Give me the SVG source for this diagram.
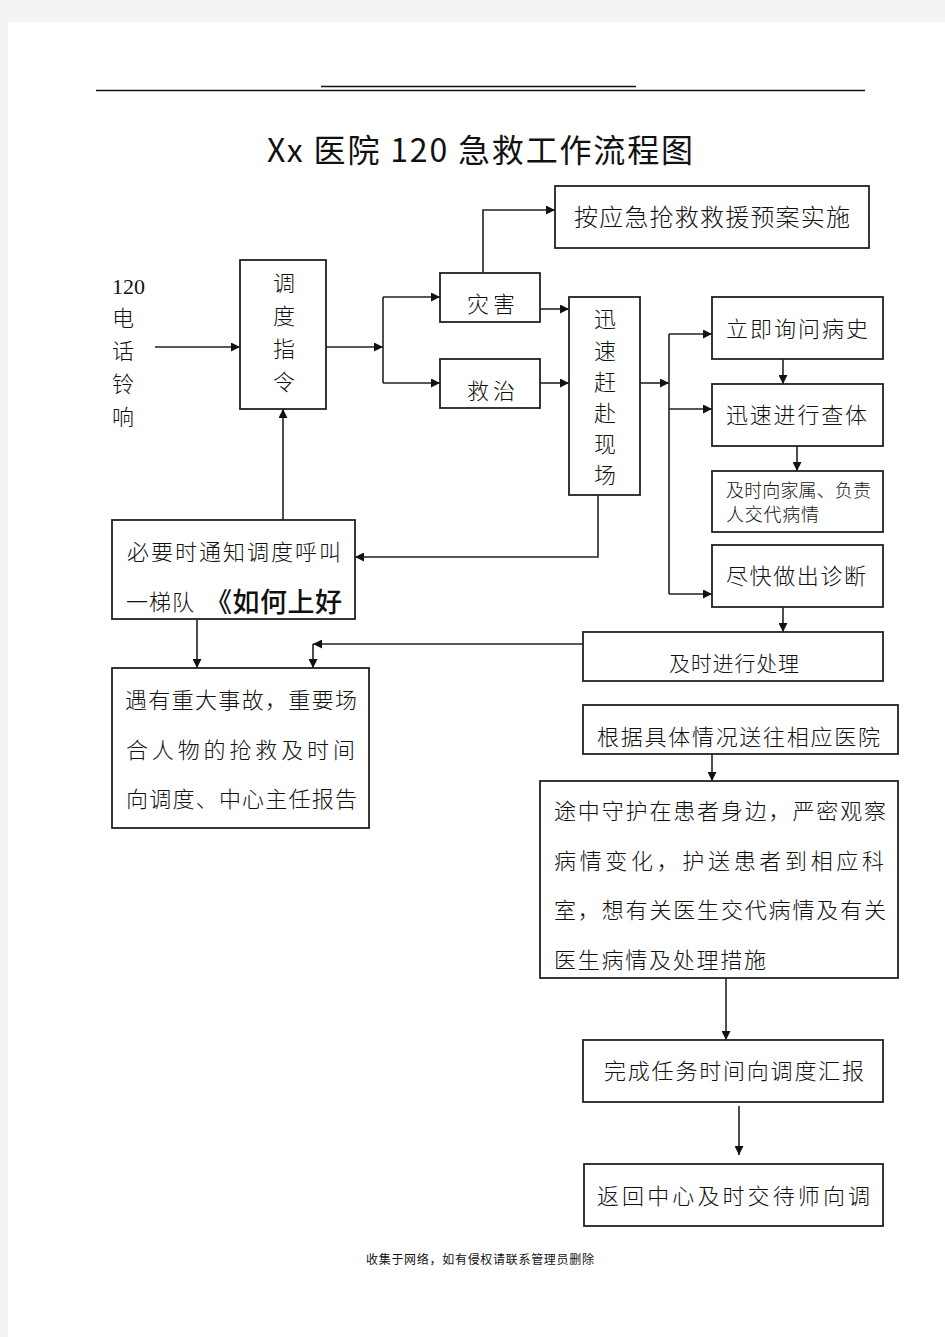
<svg xmlns="http://www.w3.org/2000/svg" width="945" height="1337" viewBox="0 0 945 1337">
<defs>
<marker id="ah" viewBox="0 0 10 10" refX="10" refY="5" markerWidth="10" markerHeight="9" markerUnits="userSpaceOnUse" orient="auto">
<path d="M0,0 L10,5 L0,10 z" fill="#111"/>
</marker>
<style>
.box{fill:#fff;stroke:#222;stroke-width:1.8}
.ln{fill:none;stroke:#222;stroke-width:1.6}
.t{font-family:"Noto Sans CJK SC","Noto Sans CJK JP",sans-serif;font-size:22px;fill:#111;font-weight:300}
.s{font-size:18px}
.lat{font-family:"Liberation Serif","Noto Sans CJK SC",serif}
</style>
</defs>
<rect x="0" y="0" width="945" height="1337" fill="#f3f3f3"/>
<rect x="8" y="22" width="937" height="1315" fill="#fff"/>
<g id="header">
<line x1="96" y1="90.5" x2="865" y2="90.5" stroke="#111" stroke-width="1.3"/>
<line x1="321" y1="86.5" x2="636" y2="86.5" stroke="#111" stroke-width="1.3"/>
<text x="267" y="162" font-family="'Noto Sans CJK SC',sans-serif" font-size="32" fill="#111" textLength="426">Xx 医院 120 急救工作流程图</text>
</g>
<g id="connectors">
<path class="ln" d="M155,347 H240" marker-end="url(#ah)"/>
<path class="ln" d="M326,347 H383" marker-end="url(#ah)"/>
<path class="ln" d="M383,297 V383"/>
<path class="ln" d="M383,297 H440" marker-end="url(#ah)"/>
<path class="ln" d="M383,383 H440" marker-end="url(#ah)"/>
<path class="ln" d="M483,273 V210 H555" marker-end="url(#ah)"/>
<path class="ln" d="M540,309 H569" marker-end="url(#ah)"/>
<path class="ln" d="M540,383 H569" marker-end="url(#ah)"/>
<path class="ln" d="M640,383 H669" marker-end="url(#ah)"/>
<path class="ln" d="M669,334 V594"/>
<path class="ln" d="M669,334 H712" marker-end="url(#ah)"/>
<path class="ln" d="M669,409 H712" marker-end="url(#ah)"/>
<path class="ln" d="M669,594 H712" marker-end="url(#ah)"/>
<path class="ln" d="M783,359 V384" marker-end="url(#ah)"/>
<path class="ln" d="M797,446 V471" marker-end="url(#ah)"/>
<path class="ln" d="M783,607 V632" marker-end="url(#ah)"/>
<path class="ln" d="M598,495 V557 H355" marker-end="url(#ah)"/>
<path class="ln" d="M283,520 V409" marker-end="url(#ah)"/>
<path class="ln" d="M197,619 V668" marker-end="url(#ah)"/>
<path class="ln" d="M583,644 H313" marker-end="url(#ah)"/>
<path class="ln" d="M313,644 V668" marker-end="url(#ah)"/>
<path class="ln" d="M712,754 V781" marker-end="url(#ah)"/>
<path class="ln" d="M726,978 V1040" marker-end="url(#ah)"/>
<path class="ln" d="M739,1106 V1155" marker-end="url(#ah)"/>
</g>
<g id="n-phone">
<text class="t lat" x="112" y="294">120</text>
<text class="t" x="112" y="326">电</text>
<text class="t" x="112" y="359">话</text>
<text class="t" x="112" y="392">铃</text>
<text class="t" x="112" y="425">响</text>
</g>
<g id="n-dispatch">
<rect class="box" x="240" y="260" width="86" height="149"/>
<text class="t" x="284" y="291" text-anchor="middle">调</text>
<text class="t" x="284" y="324" text-anchor="middle">度</text>
<text class="t" x="284" y="357" text-anchor="middle">指</text>
<text class="t" x="284" y="390" text-anchor="middle">令</text>
</g>
<g id="n-plan">
<rect class="box" x="555" y="186" width="314" height="62"/>
<text class="t" x="574" y="226" style="font-size:24px" textLength="276">按应急抢救救援预案实施</text>
</g>
<g id="n-disaster">
<rect class="box" x="440" y="273" width="100" height="49"/>
<text class="t" x="467" y="312" textLength="48">灾害</text>
</g>
<g id="n-treat">
<rect class="box" x="440" y="359" width="100" height="49"/>
<text class="t" x="467" y="399" textLength="48">救治</text>
</g>
<g id="n-rush">
<rect class="box" x="569" y="297" width="71" height="198"/>
<text class="t" x="605" y="327" text-anchor="middle">迅</text>
<text class="t" x="605" y="359" text-anchor="middle">速</text>
<text class="t" x="605" y="390" text-anchor="middle">赶</text>
<text class="t" x="605" y="421" text-anchor="middle">赴</text>
<text class="t" x="605" y="452" text-anchor="middle">现</text>
<text class="t" x="605" y="483" text-anchor="middle">场</text>
</g>
<g id="n-history">
<rect class="box" x="712" y="297" width="171" height="62"/>
<text class="t" x="726" y="337" textLength="142">立即询问病史</text>
</g>
<g id="n-exam">
<rect class="box" x="712" y="384" width="171" height="62"/>
<text class="t" x="726" y="423" textLength="141">迅速进行查体</text>
</g>
<g id="n-inform">
<rect class="box" x="712" y="471" width="171" height="61"/>
<text class="t s" x="726" y="497" textLength="145">及时向家属、负责</text>
<text class="t s" x="726" y="521" textLength="93">人交代病情</text>
</g>
<g id="n-diagnose">
<rect class="box" x="712" y="545" width="171" height="62"/>
<text class="t" x="726" y="584" textLength="140">尽快做出诊断</text>
</g>
<g id="n-handle">
<rect class="box" x="583" y="632" width="300" height="49"/>
<text class="t" x="669" y="671" style="font-size:21px" textLength="130">及时进行处理</text>
</g>
<g id="n-notify">
<rect class="box" x="112" y="520" width="243" height="99"/>
<text class="t" x="127" y="560" textLength="214">必要时通知调度呼叫</text>
<text class="t" x="126" y="610" textLength="68">一梯队</text>
<text class="t" x="205" y="612" style="font-size:27px;font-weight:500" textLength="137">《如何上好</text>
</g>
<g id="n-report">
<rect class="box" x="112" y="668" width="257" height="160"/>
<text class="t" x="125" y="708" textLength="232">遇有重大事故，重要场</text>
<text class="t" x="126" y="758" textLength="229">合人物的抢救及时间</text>
<text class="t" x="126" y="807" textLength="231">向调度、中心主任报告</text>
</g>
<g id="n-send">
<rect class="box" x="583" y="705" width="315" height="49"/>
<text class="t" x="597" y="745" textLength="283">根据具体情况送往相应医院</text>
</g>
<g id="n-escort">
<rect class="box" x="540" y="781" width="358" height="197"/>
<text class="t" x="554" y="819" textLength="332">途中守护在患者身边，严密观察</text>
<text class="t" x="554" y="869" textLength="330">病情变化，护送患者到相应科</text>
<text class="t" x="554" y="918" textLength="332">室，想有关医生交代病情及有关</text>
<text class="t" x="554" y="968" textLength="212">医生病情及处理措施</text>
</g>
<g id="n-complete">
<rect class="box" x="583" y="1040" width="300" height="62"/>
<text class="t" x="604" y="1079" textLength="260">完成任务时间向调度汇报</text>
</g>
<g id="n-return">
<rect class="box" x="584" y="1164" width="299" height="62"/>
<text class="t" x="597" y="1204" textLength="273">返回中心及时交待师向调</text>
</g>
<g id="footer">
<text x="366" y="1264" font-family="'Noto Sans CJK SC',sans-serif" font-size="12" fill="#111" textLength="228">收集于网络，如有侵权请联系管理员删除</text>
</g>
</svg>
